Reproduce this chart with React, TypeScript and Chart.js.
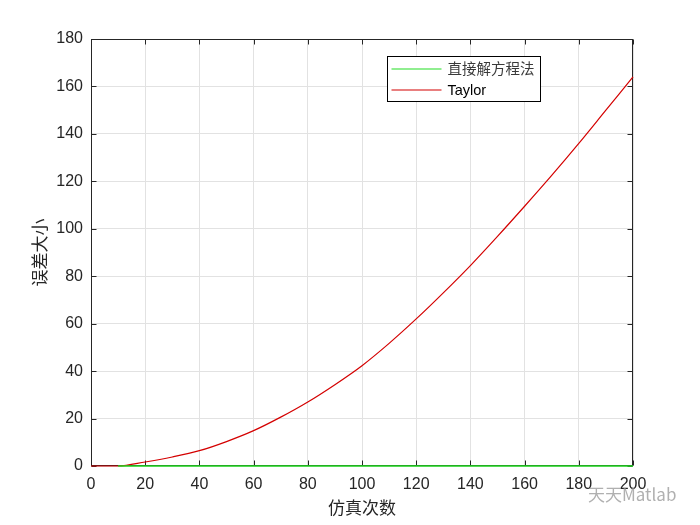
import React, { useEffect, useRef } from 'react';
import { Chart, registerables } from 'chart.js';

Chart.register(...registerables);

// ---- data ----
const taylorX = [0, 10, 20, 30, 40, 50, 60, 70, 80, 90, 100, 110, 120, 130, 140, 150, 160, 170, 180, 190, 200];
const taylorError = [0, 0, 1.7, 3.8, 6.45, 10.3, 14.9, 20.6, 27.0, 34.3, 42.3, 51.7, 62, 73, 84.5, 96.8, 109.5, 122.5, 136, 150, 164];
const directX = [10, 20, 30, 40, 50, 60, 70, 80, 90, 100, 110, 120, 130, 140, 150, 160, 170, 180, 190, 200];
const directError = [0, 0, 0, 0, 0, 0, 0, 0, 0, 0, 0, 0, 0, 0, 0, 0, 0, 0, 0, 0];
const seriesLabels = ['直接解方程法', 'Taylor'];
const seriesColors = ['#22dd22', '#d40000'];
const xAxisTitle = '仿真次数';
const yAxisTitle = '误差大小';
const xRange = [0, 200];
const yRange = [0, 180];
const tickStep = 20;
const watermark = '天天Matlab';

const LATIN = '"Liberation Sans", Arial, "Noto Sans CJK SC", sans-serif';
const CJK = '"Noto Sans CJK SC", "Liberation Sans", sans-serif';
const TEXT = '#262626';

const framePlugin = {
  id: 'matlabFrame',
  beforeDatasetsDraw(chart: any) {
    const { ctx, chartArea } = chart;
    const { left, right, top, bottom } = chartArea;
    const xs = chart.scales.x;
    const ys = chart.scales.y;
    ctx.save();
    ctx.strokeStyle = TEXT;
    ctx.lineWidth = 1;
    const L = Math.round(left) + 0.5;
    const R = Math.round(right) - 0.5;
    const T = Math.round(top) + 0.5;
    const B = Math.round(bottom) - 0.5;
    ctx.strokeRect(L, T, R - L, B - T);
    const tl = 5;
    ctx.beginPath();
    xs.ticks.forEach((t: any) => {
      const px = Math.round(xs.getPixelForValue(t.value)) + 0.5;
      ctx.moveTo(px, B);
      ctx.lineTo(px, B - tl);
      ctx.moveTo(px, T);
      ctx.lineTo(px, T + tl);
    });
    ys.ticks.forEach((t: any) => {
      const py = Math.round(ys.getPixelForValue(t.value)) + 0.5;
      ctx.moveTo(L, py);
      ctx.lineTo(L + tl, py);
      ctx.moveTo(R, py);
      ctx.lineTo(R - tl, py);
    });
    ctx.stroke();
    ctx.restore();
  },
  afterDatasetsDraw(chart: any) {
    const { ctx } = chart;
    const xs = chart.scales.x;
    const ys = chart.scales.y;
    // legend box placed inside the plot, near the top right
    const bx = Math.round(xs.getPixelForValue(109.2)) + 0.5;
    const by = Math.round(ys.getPixelForValue(172.8)) + 0.5;
    const bw = 153;
    const bh = 45;
    ctx.save();
    ctx.fillStyle = '#ffffff';
    ctx.fillRect(bx, by, bw, bh);
    ctx.strokeStyle = '#000000';
    ctx.lineWidth = 1;
    ctx.strokeRect(bx, by, bw, bh);
    ctx.font = '14.5px ' + LATIN;
    ctx.textBaseline = 'middle';
    ctx.textAlign = 'left';
    chart.data.datasets.forEach((ds: any, i: number) => {
      const ly = Math.round(by + 12 + i * 21.5);
      ctx.strokeStyle = seriesColors[i];
      ctx.lineWidth = 1.2;
      ctx.beginPath();
      ctx.moveTo(bx + 4, ly);
      ctx.lineTo(bx + 54, ly);
      ctx.stroke();
      ctx.fillStyle = i === 0 ? '#3a3a3a' : '#000000';
      ctx.fillText(ds.label, bx + 60, ly + 0.5);
    });
    ctx.restore();
  },
};

export default function App() {
  const ref = useRef<HTMLCanvasElement | null>(null);

  useEffect(() => {
    const canvas = ref.current;
    if (!canvas) return;
    const chart = new Chart(canvas, {
      type: 'line',
      data: {
        datasets: [
          {
            label: seriesLabels[0],
            data: directX.map((x, i) => ({ x, y: directError[i] })),
            borderColor: seriesColors[0],
            backgroundColor: seriesColors[0],
            borderWidth: 1.6,
            pointRadius: 0,
            fill: false,
            clip: 4,
          },
          {
            label: seriesLabels[1],
            data: taylorX.map((x, i) => ({ x, y: taylorError[i] })),
            borderColor: seriesColors[1],
            backgroundColor: seriesColors[1],
            borderWidth: 1.2,
            pointRadius: 0,
            fill: false,
            clip: 4,
            cubicInterpolationMode: 'monotone',
          },
        ],
      },
      options: {
        animation: false,
        responsive: false,
        maintainAspectRatio: false,
        devicePixelRatio: 1,
        layout: { padding: { left: 0, top: 39, right: 67, bottom: 0 } },
        plugins: {
          legend: { display: false },
          tooltip: { enabled: false },
        },
        scales: {
          x: {
            type: 'linear',
            min: xRange[0],
            max: xRange[1],
            afterFit: (s: any) => {
              s.height = 59;
            },
            ticks: {
              stepSize: tickStep,
              color: TEXT,
              font: { family: LATIN, size: 16 },
              padding: 9,
              maxRotation: 0,
            },
            grid: { color: '#e2e2e2', drawTicks: false, lineWidth: 1 },
            border: { display: false },
            title: {
              display: true,
              text: xAxisTitle,
              color: TEXT,
              font: { family: CJK, size: 17 },
              padding: { top: 0, bottom: 7 },
            },
          },
          y: {
            type: 'linear',
            min: yRange[0],
            max: yRange[1],
            afterFit: (s: any) => {
              s.width = 91;
            },
            ticks: {
              stepSize: tickStep,
              color: TEXT,
              font: { family: LATIN, size: 16 },
              padding: 8,
            },
            grid: { color: '#e2e2e2', drawTicks: false, lineWidth: 1 },
            border: { display: false },
            title: {
              display: true,
              text: yAxisTitle,
              color: TEXT,
              font: { family: CJK, size: 17 },
              padding: { top: 29, bottom: 0 },
            },
          },
        },
      },
      plugins: [framePlugin],
    } as any);
    return () => chart.destroy();
  }, []);

  return (
    <div style={{ position: 'absolute', left: 0, top: 0, width: 700, height: 525, background: '#ffffff' }}>
      <canvas ref={ref} width={700} height={525} style={{ display: 'block' }} />
      <div
        style={{
          position: 'absolute',
          left: 588,
          top: 484,
          fontFamily: CJK,
          fontSize: 17,
          color: 'rgba(150,150,150,0.75)',
          whiteSpace: 'nowrap',
          lineHeight: '20px',
        }}
      >
        {watermark}
      </div>
    </div>
  );
}
